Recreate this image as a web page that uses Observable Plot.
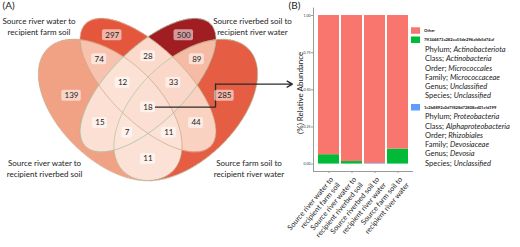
<!DOCTYPE html>
<html><head><meta charset="utf-8">
<script src="https://cdn.jsdelivr.net/npm/d3@7"></script>
<script src="https://cdn.jsdelivr.net/npm/@observablehq/plot@0.6"></script>
<style>
html,body{margin:0;padding:0;background:#fff;}
#fig{position:relative;width:520px;height:247px;overflow:hidden;font-family:Lato,sans-serif;}
#fig > svg{position:absolute;top:0;}
</style></head><body><div id="fig"></div>
<script>
// ---------------- DATA ----------------
// Venn sets, in ellipse order: outer-left, inner-left, inner-right, outer-right
const vennSets = [
  "Source river water to recipient riverbed soil",
  "Source river water to recipient farm soil",
  "Source riverbed soil to recipient river water",
  "Source farm soil to recipient river water"
];
// region membership (1 = inside that set) and ASV counts
const regionMembers = ["1000","0100","0010","0001","1100","1010","1001","0110","0101","0011","1110","1101","1011","0111","1111"];
const regionCounts  = [ 139,   297,   500,   285,    74,    15,    11,    28,    44,    89,    12,    11,     7,    33,    18 ];

// Bar chart
const samples = [
  "Source river water to recipient farm soil",
  "Source river water to recipient riverbed soil",
  "Source riverbed soil to recipient river water",
  "Source farm soil to recipient river water"
];
const taxa = ["Other", "7ff346873a282aa55de296afdb5d74af", "1c2b8892a0d7f828d72808cd01cfd199"];
const actinoAbundance  = [0.063, 0.017, 0.000, 0.101];
const devosiaAbundance = [0.000, 0.000, 0.004, 0.000];
const taxonomy1 = [["Phylum; ","Actinobacteriota"],["Class; ","Actinobacteria"],["Order; ","Micrococcales"],["Family; ","Micrococcaceae"],["Genus; ","Unclassified"],["Species; ","Unclassified"]];
const taxonomy2 = [["Phylum; ","Proteobacteria"],["Class; ","Alphaproteobacteria"],["Order; ","Rhizobiales"],["Family; ","Devosiaceae"],["Genus; ","Devosia"],["Species; ","Unclassified"]];

// ---------------- LAYOUT / GEOMETRY ----------------
const ellipses = [
  {cx:0.35, cy:0.47, a:0.35, b:0.20, rot:135},
  {cx:0.50, cy:0.57, a:0.35, b:0.15, rot:135},
  {cx:0.50, cy:0.57, a:0.35, b:0.15, rot:45},
  {cx:0.65, cy:0.47, a:0.35, b:0.20, rot:45}
];
const edgeColors = ["#c4a27c", "#c9a382", "#93bf9e", "#a9c29c"];
const xr = [21.5, 273.5], yr = [226, -22];
const pxX = xr[1] - xr[0], pxY = yr[0] - yr[1];

function inside(e, x, y) {
  const t = e.rot * Math.PI / 180, dx = x - e.cx, dy = y - e.cy;
  const u = dx * Math.cos(t) + dy * Math.sin(t), v = -dx * Math.sin(t) + dy * Math.cos(t);
  return (u * u) / (e.a * e.a) + (v * v) / (e.b * e.b) <= 1;
}
const keyAt = (x, y) => ellipses.map(e => inside(e, x, y) ? "1" : "0").join("");
const countOf = new Map(regionMembers.map((m, i) => [m, regionCounts[i]]));

// region centroids (label positions)
const acc = new Map();
for (let i = 0; i <= 500; i++) for (let j = 0; j <= 500; j++) {
  const x = i / 500, y = j / 500, k = keyAt(x, y);
  if (!countOf.has(k)) continue;
  const s = acc.get(k) || {x: 0, y: 0, n: 0};
  s.x += x; s.y += y; s.n++; acc.set(k, s);
}
const labels = regionMembers.map((m, i) => {
  const s = acc.get(m);
  return {key: m, n: regionCounts[i], x: s.x / s.n, y: s.y / s.n, w: String(regionCounts[i]).length * 4.5 + 6};
});
const outline = e => d3.range(0, 201).map(i => {
  const t = i / 200 * 2 * Math.PI, r = e.rot * Math.PI / 180;
  return {x: e.cx + e.a * Math.cos(t) * Math.cos(r) - e.b * Math.sin(t) * Math.sin(r),
          y: e.cy + e.a * Math.cos(t) * Math.sin(r) + e.b * Math.sin(t) * Math.cos(r)};
});
const core = labels.find(d => d.key === "1111");
const cornerX = core.x + 0.268, cornerY = core.y + 0.093;
const arrowPath = [{x: core.x + core.w / 2 / pxX, y: core.y}, {x: cornerX, y: core.y}, {x: cornerX, y: cornerY}];

const split2 = s => s.replace(" to ", " to\n");
const setLabelPos = [
  {frameAnchor: "bottom-left", dx: 44, dy: -89},
  {frameAnchor: "top-left", dx: 38.5, dy: 16},
  {frameAnchor: "top-right", dx: -48, dy: 15.5},
  {frameAnchor: "bottom-right", dx: -51.5, dy: -89}
];

const venn = Plot.plot({
  width: 300, height: 247, margin: 0,
  style: {background: "transparent", overflow: "visible", fontFamily: "Lato, sans-serif"},
  x: {domain: [0, 1], range: xr, axis: null},
  y: {domain: [0, 1], range: yr, axis: null},
  color: {type: "linear", domain: [0, 150, 300, 500], range: ["#fde8dd", "#f09c7e", "#e4563b", "#a01d22"], interpolate: "rgb"},
  marks: [
    Plot.raster({x1: 0.02, x2: 0.98, y1: 0.15, y2: 0.88, pixelSize: 0.5,
      fill: (x, y) => countOf.get(keyAt(x, y))}),
    ...ellipses.map((e, i) => Plot.line(outline(e), {x: "x", y: "y", stroke: edgeColors[i], strokeWidth: 0.8, strokeOpacity: 0.85})),
    Plot.line(arrowPath, {x: "x", y: "y", stroke: "#2a2a2a", strokeWidth: 1.3, strokeLinejoin: "miter"}),
    Plot.arrow([{x1: cornerX, y1: cornerY, x2: 1.073, y2: cornerY}], {x1: "x1", y1: "y1", x2: "x2", y2: "y2", stroke: "#2a2a2a", strokeWidth: 1.3, headLength: 7}),
    Plot.rect(labels, {x1: d => d.x - d.w / 2 / pxX, x2: d => d.x + d.w / 2 / pxX,
      y1: d => d.y - 5.5 / pxY, y2: d => d.y + 5.5 / pxY, fill: "white", fillOpacity: 0.55, rx: 2}),
    Plot.text(labels, {x: "x", y: "y", text: d => String(d.n), fontSize: 8, fill: "#222"}),
    ...vennSets.map((s, i) => Plot.text([s], {text: d => split2(d), ...setLabelPos[i], lineAnchor: "top", textAnchor: "middle", fontSize: 8, lineHeight: 1.375, fill: "#222"})),
    Plot.text(["(A)"], {frameAnchor: "top-left", dx: 2, dy: 1, lineAnchor: "top", textAnchor: "start", fontSize: 10, fill: "#222"})
  ]
});
venn.style.left = "0px";

// ---------------- BAR CHART ----------------
const rows = [];
samples.forEach((s, i) => {
  rows.push({sample: s, taxon: taxa[2], value: devosiaAbundance[i]});
  rows.push({sample: s, taxon: taxa[1], value: actinoAbundance[i]});
  rows.push({sample: s, taxon: taxa[0], value: 1 - devosiaAbundance[i] - actinoAbundance[i]});
});
const barColors = ["#F8766D", "#00BA38", "#619CFF"];

const bars = Plot.plot({
  width: 165, height: 247, marginLeft: 63, marginRight: 3, marginTop: 7.6, marginBottom: 76,
  style: {background: "transparent", overflow: "visible", fontFamily: "Lato, sans-serif"},
  x: {domain: samples, paddingInner: 0.1, paddingOuter: 0.15, axis: null},
  y: {domain: [-0.05, 1.05], axis: null},
  color: {domain: taxa, range: barColors},
  marks: [
    Plot.barY(rows, {x: "sample", y: "value", fill: "taxon"}),
    Plot.frame({anchor: "left", stroke: "#9a9a9a"}),
    Plot.frame({anchor: "bottom", stroke: "#9a9a9a"}),
    Plot.axisY({ticks: [0, 0.25, 0.5, 0.75, 1], tickFormat: d3.format(".2f"), fontSize: 3.5, tickSize: 2, tickPadding: 1, label: null, stroke: "#9a9a9a", fill: "#333"}),
    Plot.axisX({tickFormat: split2, tickRotate: -50, textAnchor: "end", lineAnchor: "top", fontSize: 7.3, lineHeight: 1.2, tickSize: 2, tickPadding: 2, label: null, stroke: "#9a9a9a", fill: "#222"}),
    Plot.text(["(%) Relative Abundance"], {frameAnchor: "left", dx: -13, dy: 3, rotate: -90, textAnchor: "middle", fontSize: 8, fill: "#222"}),
    Plot.text(["(B)"], {frameAnchor: "top-left", dx: -25, dy: -6.4, lineAnchor: "top", textAnchor: "start", fontSize: 10, fill: "#222"})
  ]
});
bars.style.left = "250px";

// ---------------- LEGEND ----------------
const leg = d3.create("svg").attr("width", 115).attr("height", 247)
  .style("left", "405px").style("font-family", "Lato, sans-serif").style("overflow", "visible");
const keyY = [27.3, 36.5, 104];
[0, 1, 2].forEach(i => leg.append("rect").attr("x", 6).attr("y", keyY[i]).attr("width", 9).attr("height", 6.5).attr("fill", barColors[i]));
const bold = (t, y) => leg.append("text").attr("x", 19).attr("y", y).attr("dominant-baseline", "middle")
  .attr("font-size", 4.1).attr("font-weight", "bold").attr("fill", "#111").text(t);
bold(taxa[0], 31);
bold(taxa[1], 40);
bold(taxa[2], 107.5);
const taxLines = (list, y0) => list.forEach(([p, n], i) => {
  const t = leg.append("text").attr("x", 20).attr("y", y0 + i * 9.25).attr("dominant-baseline", "middle")
    .attr("font-size", 7.5).attr("fill", "#222");
  t.append("tspan").text(p);
  t.append("tspan").attr("font-style", "italic").text(n);
});
taxLines(taxonomy1, 50);
taxLines(taxonomy2, 117.3);

const fig = document.getElementById("fig");
fig.append(venn, bars, leg.node());
</script></body></html>
